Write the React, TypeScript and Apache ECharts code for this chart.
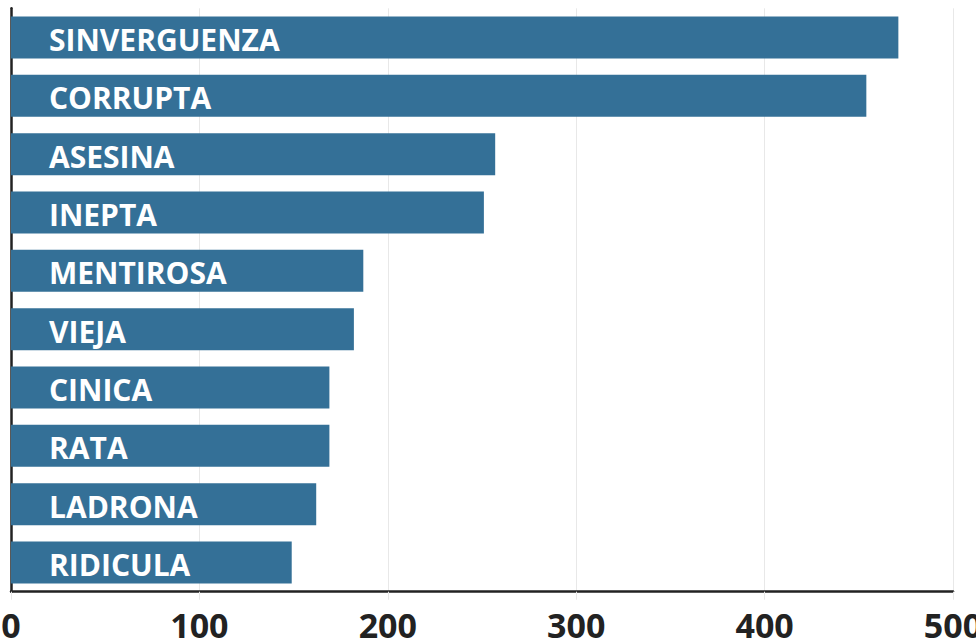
import React, { useEffect, useRef } from "react";
import * as echarts from "echarts";

const categories = [
  "SINVERGUENZA",
  "CORRUPTA",
  "ASESINA",
  "INEPTA",
  "MENTIROSA",
  "VIEJA",
  "CINICA",
  "RATA",
  "LADRONA",
  "RIDICULA",
];
const values = [471, 454, 257, 251, 187, 182, 169, 169, 162, 149];
const xMin = 0;
const xMax = 500;
const xInterval = 100;

export default function App() {
  const ref = useRef<HTMLDivElement>(null);
  useEffect(() => {
    if (!ref.current) return;
    const chart = echarts.init(ref.current, null, { renderer: "svg" });
    chart.setOption({
      animation: false,
      grid: {
        left: 11,
        right: 23,
        top: 8.3,
        bottom: 49.3,
        containLabel: false,
        outerBoundsMode: "none",
      },
      xAxis: {
        type: "value",
        min: xMin,
        max: xMax,
        interval: xInterval,
        axisLine: { show: true, lineStyle: { color: "#222", width: 2.5 } },
        axisTick: { show: true, length: 8, lineStyle: { color: "#e8e8e8", width: 1 } },
        splitLine: { show: true, lineStyle: { color: "#e8e8e8", width: 1 } },
        axisLabel: {
          fontFamily: "Open Sans",
          fontWeight: "bold",
          fontSize: 34,
          color: "#222",
          margin: 16,
        },
      },
      yAxis: {
        type: "category",
        data: categories,
        inverse: true,
        axisLine: { show: true, lineStyle: { color: "#222", width: 2.5 } },
        axisTick: { show: false },
        axisLabel: { show: false },
        splitLine: { show: false },
      },
      series: [
        {
          type: "bar",
          data: values,
          barCategoryGap: "28%",
          itemStyle: { color: "#347097" },
          label: {
            show: true,
            position: "insideLeft",
            distance: 0,
            offset: [38, 2],
            formatter: (p: any) => p.name,
            color: "#fff",
            fontFamily: "Open Sans",
            fontWeight: "bold",
            fontSize: 30,
          },
        },
      ],
    });
    return () => chart.dispose();
  }, []);
  return (
    <div
      ref={ref}
      style={{ position: "fixed", left: 0, top: 0, width: 976, height: 641, background: "#fff" }}
    />
  );
}
